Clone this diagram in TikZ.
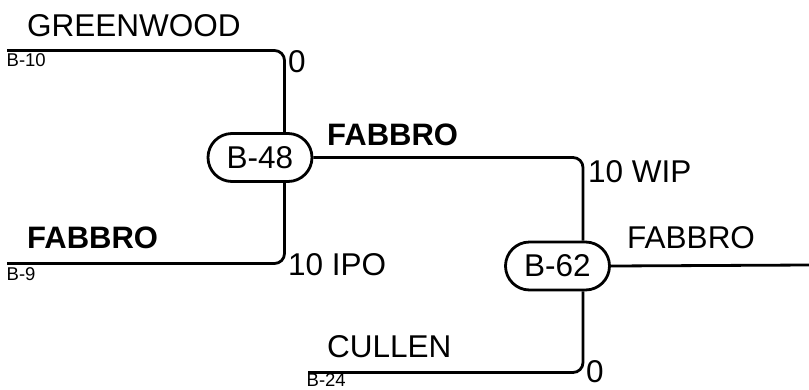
\documentclass[tikz,border=0pt]{standalone}
\usepackage{fontspec}
\setmainfont{Liberation Sans}
\usetikzlibrary{shapes.misc}
\tikzset{
  wire/.style={line width=2.8pt, rounded corners=10pt},
  unit/.style={draw, line width=2.8pt, rounded rectangle, minimum width=104pt, minimum height=48pt, inner sep=0pt, font=\fontsize{31.5}{36}\selectfont},
  big/.style={anchor=base west, inner sep=0pt, font=\fontsize{31.5}{36}\selectfont},
  bigb/.style={anchor=base west, inner sep=0pt, font=\fontsize{31}{36}\selectfont\bfseries},
  small/.style={anchor=base west, inner sep=0pt, font=\fontsize{18.5}{20}\selectfont},
}
\begin{document}
\begin{tikzpicture}[x=1pt,y=-1pt]
\useasboundingbox (0,0) rectangle (809,389);
% units
\node[unit] (b48) at (260,157.5) {B-48};
\node[unit] (b62) at (557.5,266) {B-62};
% free ends
\coordinate (b10) at (7,50.5);
\coordinate (b9) at (7,263.5);
\coordinate (b24) at (308,372.5);
\coordinate (out) at (809,265);
% connectors
\draw[wire] (b10) -| ([xshift=24.5pt]b48.north);
\draw[wire] (b9) -| ([xshift=24.5pt]b48.south);
\draw[wire] (b48.east) -| ([xshift=25.5pt]b62.north);
\draw[wire] (b24) -| ([xshift=25.5pt]b62.south);
\draw[wire] (b62.east) -- (out);
% labels
\node[big] (greenwood) at (27,36.5) {GREENWOOD};
\node[small] (lb10) at (6.5,66) {B-10};
\node[big] (z1) at (288,72) {0};
\node[bigb] (fab1) at (327,145) {FABBRO};
\node[big] (wip) at (588,182) {10 WIP};
\node[bigb] (fab2) at (27,248) {FABBRO};
\node[small] (lb9) at (6.5,280) {B-9};
\node[big] (ipo) at (288,275) {10 IPO};
\node[big] (fab3) at (627,248) {FABBRO};
\node[big] (cullen) at (327,357) {CULLEN};
\node[big] (z2) at (586,382) {0};
\node[small] (lb24) at (306.5,386.5) {B-24};
\end{tikzpicture}
\end{document}
